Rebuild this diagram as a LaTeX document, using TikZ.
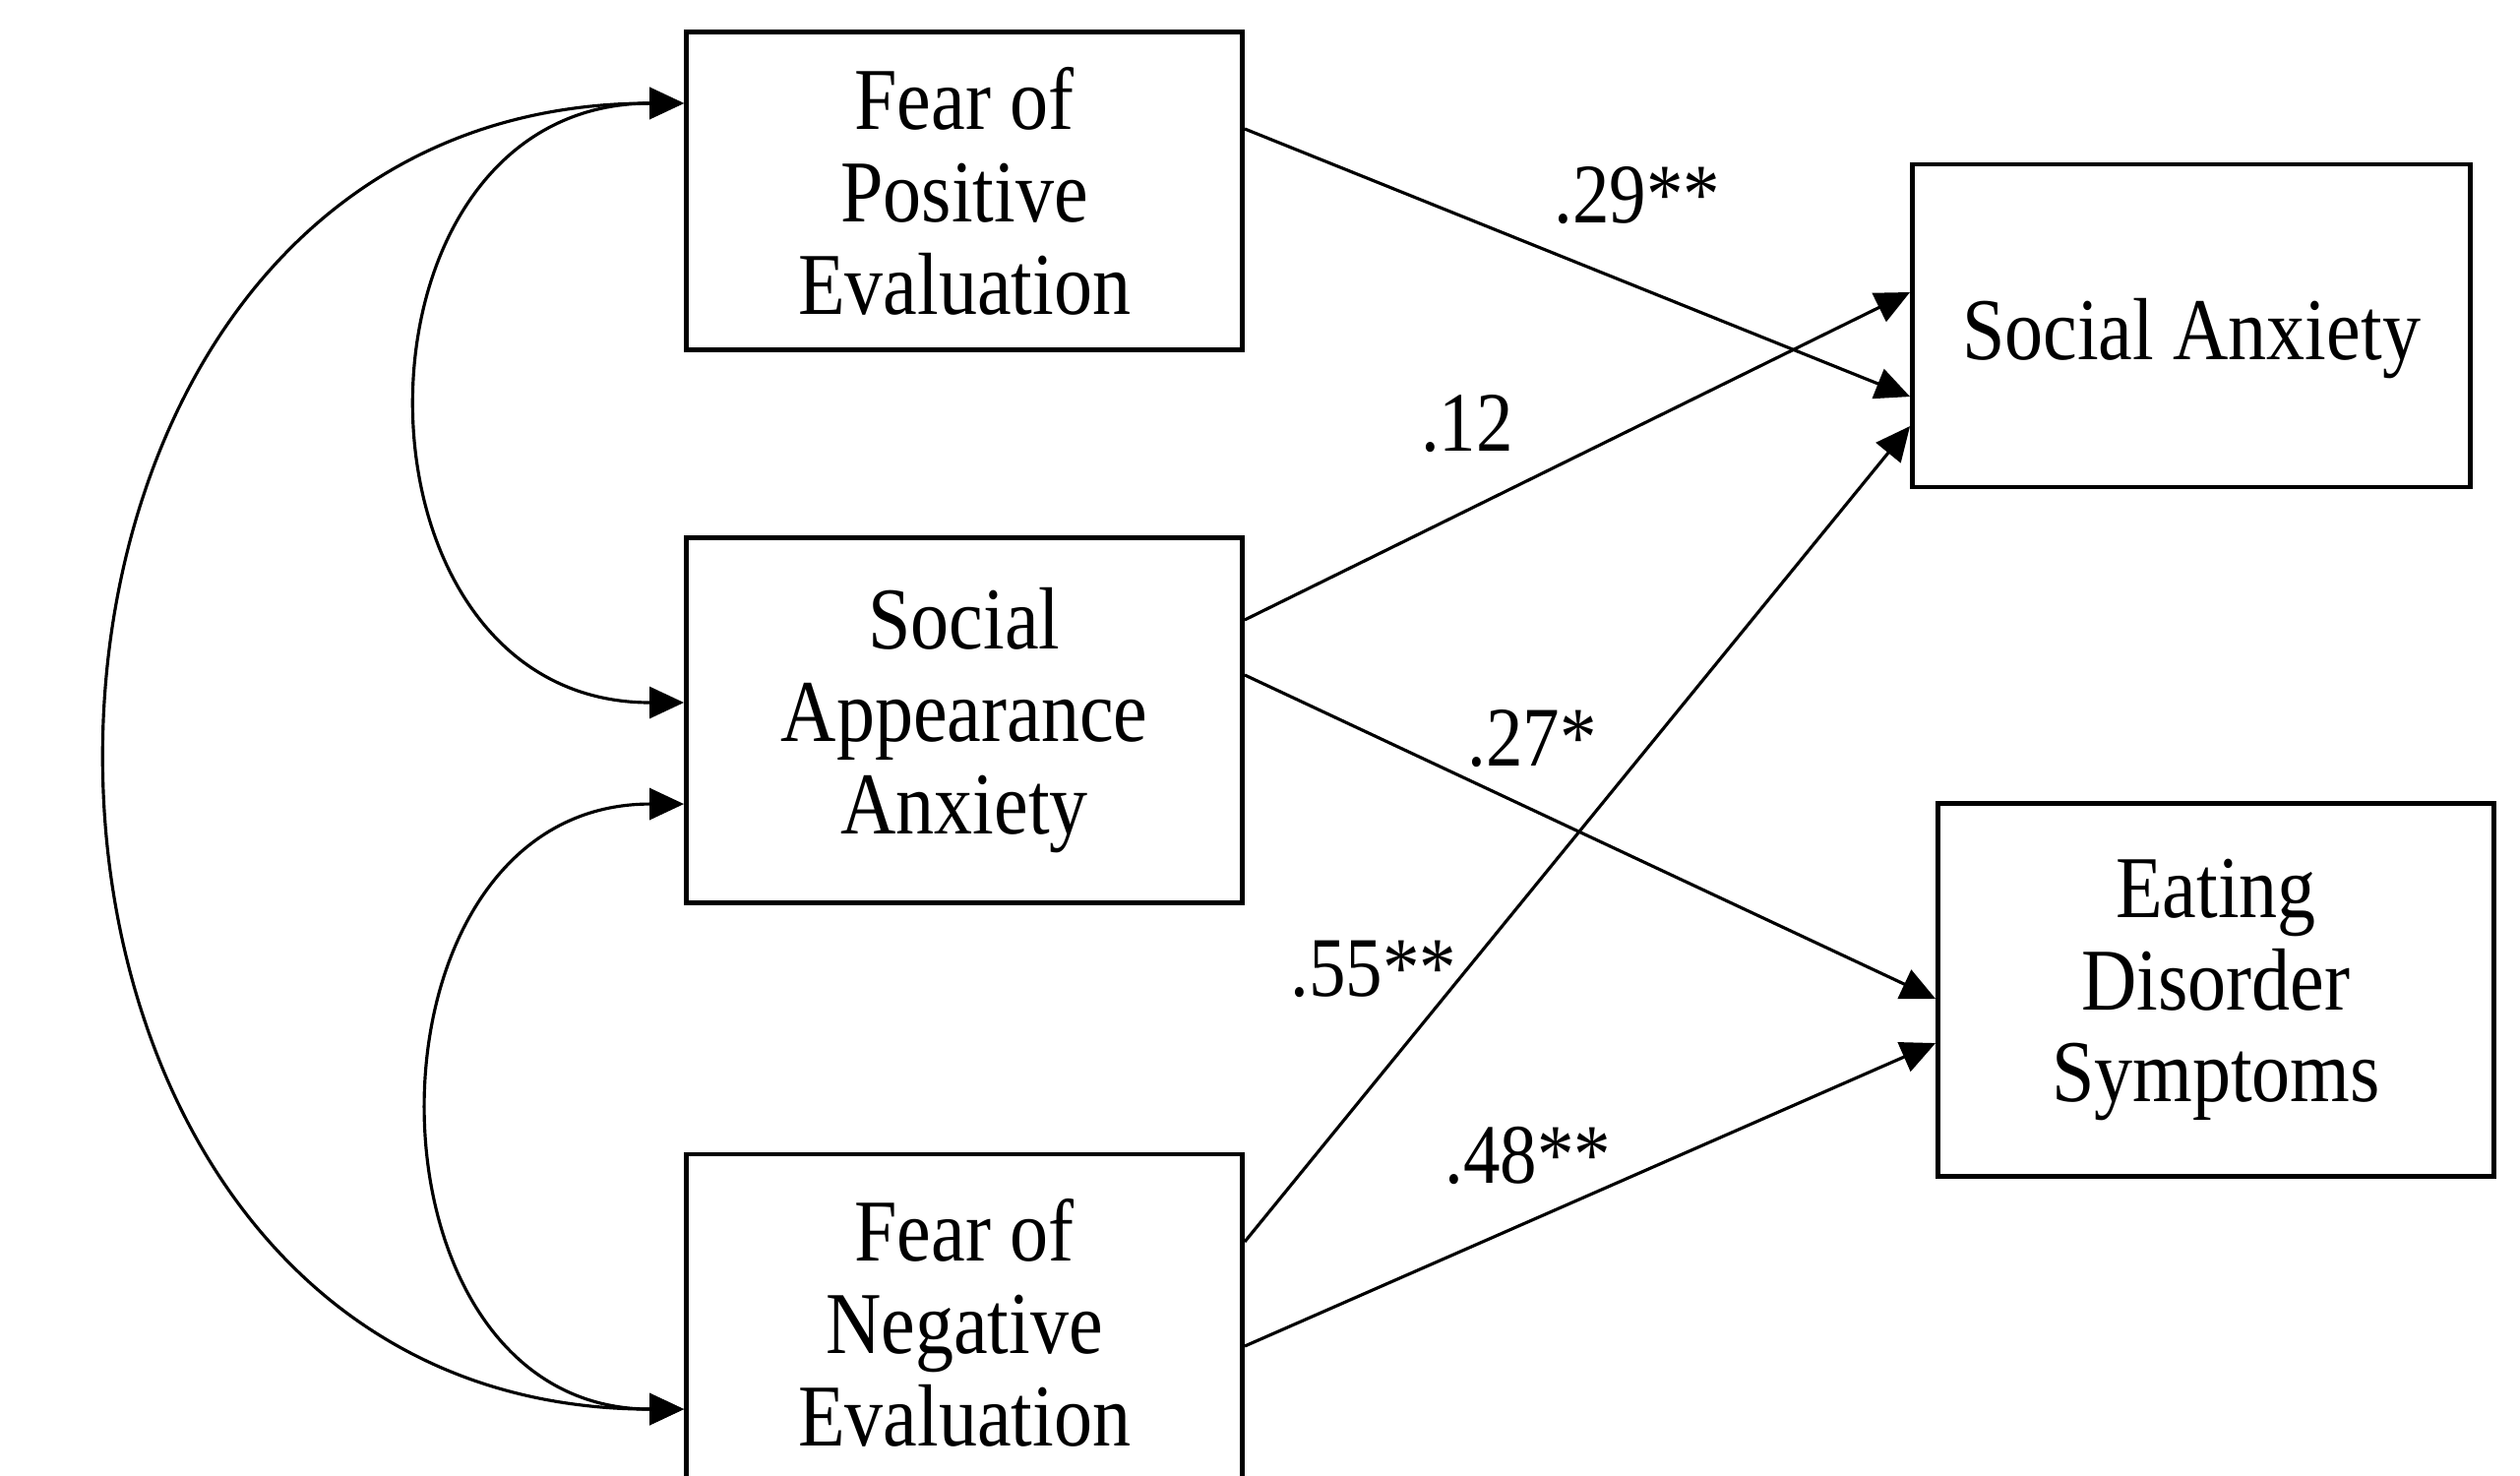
\documentclass[tikz,border=0pt]{standalone}
\usepackage{fontspec}
\setmainfont{Liberation Serif}[FakeStretch=0.87]
\usetikzlibrary{arrows.meta}
\tikzset{
  var/.style={draw,line width=1.3pt,align=center,inner sep=0pt,minimum width=5.65cm,font=\fontsize{25.5}{26.7}\selectfont},
  effect/.style={-{Triangle[length=0.35cm,width=0.32cm]},line width=0.9pt},
  corr/.style={{Triangle[length=0.35cm,width=0.32cm]}-{Triangle[length=0.35cm,width=0.32cm]},line width=0.9pt},
  coef/.style={inner sep=0pt,font=\fontsize{24.5}{26}\selectfont}
}

\begin{document}
\begin{tikzpicture}[x=0.01cm,y=-0.01cm]

    \useasboundingbox (0,0) rectangle (2561,1499);
    \clip (0,0) rectangle (2561,1499);

    % predictors
    \node[var,minimum height=3.23cm] (fpe) at (980,194) {Fear of\\Positive\\Evaluation};
    \node[var,minimum height=3.71cm] (saa) at (980,732) {Social\\Appearance\\Anxiety};
    \node[var,minimum height=3.42cm] (fne) at (980,1344) {Fear of\\Negative\\Evaluation};

    % outcomes
    \node[var,minimum height=3.28cm,minimum width=5.67cm,text height=0.88cm] (sa) at (2227,331) {Social Anxiety};
    \node[var,minimum height=3.79cm] (eds) at (2252,1006) {Eating\\Disorder\\Symptoms};

    % correlations
    \draw[corr] ([yshift=0.89cm]fpe.west) to[out=180,in=180,looseness=1.5] ([yshift=0.18cm]saa.west);
    \draw[corr] ([yshift=-0.85cm]saa.west) to[out=180,in=180,looseness=1.42] ([yshift=-0.88cm]fne.west);
    \draw[corr] ([yshift=0.89cm]fpe.west) to[out=180,in=180,looseness=1.5] ([yshift=-0.88cm]fne.west);

    % paths
    \draw[effect] ([yshift=0.63cm]fpe.east) -- ([yshift=-0.72cm]sa.west);
    \draw[effect] ([yshift=1.02cm]saa.east) -- ([yshift=0.34cm]sa.west);
    \draw[effect] ([yshift=0.46cm]saa.east) -- ([yshift=-0.09cm]eds.west);
    \draw[effect] ([yshift=0.82cm]fne.east) -- ([yshift=-1.02cm]sa.west);
    \draw[effect] ([yshift=-0.24cm]fne.east) -- ([yshift=-0.54cm]eds.west);

    % coefficients
    \node[coef] (c29) at (1664,199) {.29**};
    \node[coef] (c12) at (1491,431) {.12};
    \node[coef] (c27) at (1557,751) {.27*};
    \node[coef] (c55) at (1396,985) {.55**};
    \node[coef] (c48) at (1553,1174) {.48**};

\end{tikzpicture}
\end{document}
